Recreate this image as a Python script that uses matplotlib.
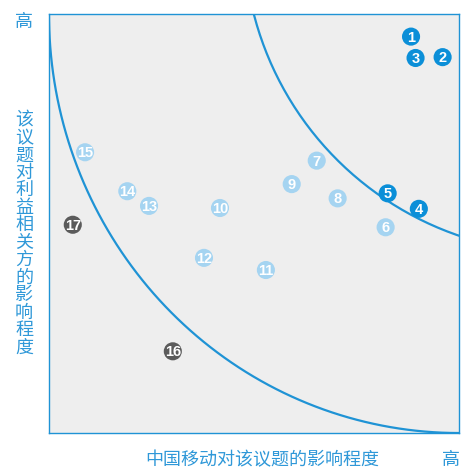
import numpy as np
import matplotlib.pyplot as plt

plt.rcParams['font.family'] = ['Noto Sans CJK SC', 'DejaVu Sans']

# 议题编号及位置（横轴：中国移动影响程度，纵轴：对利益相关方影响程度，0-10）
ids = [1, 2, 3, 4, 5, 6, 7, 8, 9, 10, 11, 12, 13, 14, 15, 16, 17]
x_vals = [8.83, 9.60, 8.94, 9.02, 8.26, 8.21, 6.53, 7.04, 5.92, 4.17, 5.29, 3.78, 2.44, 1.91, 0.88, 3.02, 0.58]
y_vals = [9.46, 8.97, 8.95, 5.35, 5.72, 4.91, 6.50, 5.60, 5.94, 5.37, 3.89, 4.18, 5.42, 5.77, 6.70, 1.95, 4.97]
groups = ['high', 'high', 'high', 'high', 'high', 'mid', 'mid', 'mid', 'mid', 'mid',
          'mid', 'mid', 'mid', 'mid', 'mid', 'low', 'low']

group_colors = {'high': '#0b8fd8', 'mid': '#a5d4f1', 'low': '#5b5b5b'}
blue = '#1f93d5'

fig = plt.figure(figsize=(4.77, 4.77), dpi=100)
ax = fig.add_axes([0.1027, 0.0901, 0.8596, 0.8785])
ax.set_xlim(0, 10)
ax.set_ylim(0, 10)
ax.set_facecolor('#eeeeee')
for s in ax.spines.values():
    s.set_color(blue)
    s.set_linewidth(1.0)
ax.set_xticks([])
ax.set_yticks([])

# 分界曲线
t = np.linspace(0, np.pi / 2, 300)
ax.plot(10 - 10 * np.sin(t), 10 - 10 * np.cos(t), color=blue, lw=1.6, clip_on=True)
t2 = np.linspace(0, 2 * np.pi, 600)
ax.plot(12.51 + 7.76 * np.cos(t2), 11.89 + 7.59 * np.sin(t2), color=blue, lw=1.6)

cols = [group_colors[g] for g in groups]
ax.scatter(x_vals, y_vals, s=170, c=cols, edgecolors='none', zorder=3)
for i, xv, yv in zip(ids, x_vals, y_vals):
    ax.text(xv, yv, str(i), color='white', fontsize=10.5, family='Liberation Sans',
            weight='bold', ha='center', va='center', zorder=4)

lbl_color = '#2f98d8'
fig.text(24 / 477, 1 - 22 / 477, '高', color=lbl_color, fontsize=13, ha='center', va='center')
fig.text(451 / 477, 1 - 460 / 477, '高', color=lbl_color, fontsize=13, ha='center', va='center')
fig.text(262 / 477, 1 - 460 / 477, '中国移动对该议题的影响程度', color=lbl_color,
         fontsize=13, ha='center', va='center')
fig.text(24 / 477, 1 - 234 / 477, '\n'.join('该议题对利益相关方的影响程度'), color=lbl_color,
         fontsize=13, ha='center', va='center', linespacing=0.96)

fig.savefig('out.png', dpi=100)
